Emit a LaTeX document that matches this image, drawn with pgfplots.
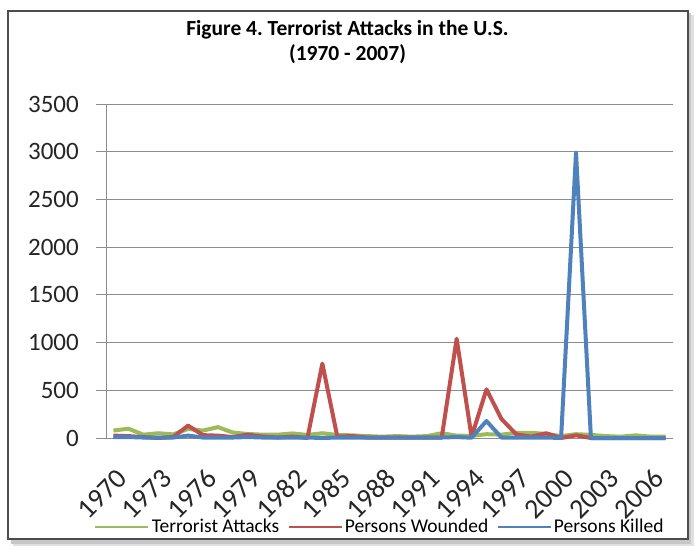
\documentclass[border=0pt]{standalone}
\usepackage{pgfplots}
\pgfplotsset{compat=1.18}
\usepackage{fontspec}
\setmainfont{Carlito}
\frenchspacing
\definecolor{cGreen}{HTML}{9BBB59}
\definecolor{cRed}{HTML}{C0504D}
\definecolor{cBlue}{HTML}{4F81BD}
\definecolor{cGrid}{HTML}{8C8C8C}
\begin{document}
\begin{tikzpicture}
\path[use as bounding box] (0pt,0pt) rectangle (695pt,550pt);
% shadow and frame
\fill[black!12] (13pt,4pt) rectangle (694pt,535pt);
\fill[black!22] (11pt,6pt) rectangle (691pt,537pt);
\draw[fill=white, draw=black!70, line width=1.3pt] (8pt,11pt) rectangle (688pt,539pt);
\node[font=\bfseries\fontsize{21.5}{26}\selectfont, anchor=base] at (347.5pt,514pt) {Figure 4. Terrorist Attacks in the U.S.};
\node[font=\bfseries\fontsize{21.5}{26}\selectfont, anchor=base] at (347.5pt,489pt) {(1970 - 2007)};
\begin{axis}[
  at={(106pt,112pt)}, anchor=south west,
  scale only axis, width=567pt, height=334pt,
  xmin=1969.5, xmax=2007.5, ymin=0, ymax=3500,
  axis lines=left, axis line style={-, draw=cGrid, line width=0.9pt},
  ytick={0,500,...,3500},
  xtick=\empty,
  minor xtick={1969.5,1970.5,...,2007.5},
  extra x ticks={1970,1973,...,2006},
  extra x tick labels={1970,1973,1976,1979,1982,1985,1988,1991,1994,1997,2000,2003,2006},
  extra x tick style={major tick length=0pt},
  tick align=outside, major tick length=10pt, minor tick length=7pt,
  tick style={draw=cGrid, line width=0.9pt},
  minor tick style={draw=cGrid, line width=0.9pt},
  ymajorgrids, grid style={draw=cGrid, line width=0.9pt},
  /pgf/number format/1000 sep={},
  /pgf/number format/assume math mode=true,
  tick label style={font=\fontsize{25}{30}\selectfont, text=black!85},
  x tick label style={font=\fontsize{28}{32}\selectfont, xshift=2pt, yshift=-29pt, rotate=45, anchor=north east, inner sep=0pt},
  y tick label style={anchor=east, inner sep=0pt, xshift=-17pt},
  legend columns=3,
  legend style={at={(0.483,-0.266)}, anchor=center, draw=none, fill=none,
    font=\fontsize{19.5}{23}\selectfont, inner sep=0pt,
    /tikz/every even column/.append style={column sep=6pt}},
  legend image code/.code={\draw[#1, line width=2.6pt] (0pt,0pt) -- (53pt,0pt);},
  clip=false,
]
\addplot[cGreen, line width=4pt, line join=round] coordinates {
(1970,78)(1971,98)(1972,35)(1973,50)(1974,38)(1975,95)(1976,78)(1977,114)(1978,57)(1979,42)
(1980,35)(1981,35)(1982,48)(1983,32)(1984,50)(1985,32)(1986,28)(1987,20)(1988,14)(1989,20)
(1990,14)(1991,20)(1992,50)(1993,25)(1994,22)(1995,40)(1996,35)(1997,55)(1998,55)(1999,42)
(2000,20)(2001,40)(2002,33)(2003,20)(2004,14)(2005,28)(2006,14)(2007,14)};
\addlegendentry{Terrorist Attacks}
\addplot[cRed, line width=4pt, line join=round] coordinates {
(1970,25)(1971,20)(1972,10)(1973,0)(1974,10)(1975,130)(1976,30)(1977,25)(1978,10)(1979,35)
(1980,15)(1981,5)(1982,15)(1983,0)(1984,780)(1985,15)(1986,20)(1987,5)(1988,5)(1989,5)
(1990,5)(1991,5)(1992,5)(1993,1040)(1994,12)(1995,510)(1996,200)(1997,38)(1998,14)(1999,50)
(2000,0)(2001,28)(2002,0)(2003,0)(2004,0)(2005,0)(2006,0)(2007,0)};
\addlegendentry{Persons Wounded}
\addplot[cBlue, line width=4pt, line join=round] coordinates {
(1970,10)(1971,10)(1972,5)(1973,5)(1974,5)(1975,25)(1976,5)(1977,5)(1978,5)(1979,10)
(1980,5)(1981,5)(1982,5)(1983,5)(1984,0)(1985,5)(1986,5)(1987,5)(1988,5)(1989,5)
(1990,5)(1991,5)(1992,5)(1993,10)(1994,3)(1995,178)(1996,5)(1997,5)(1998,5)(1999,5)
(2000,0)(2001,2990)(2002,0)(2003,0)(2004,0)(2005,0)(2006,0)(2007,0)};
\addlegendentry{Persons Killed}
\end{axis}
\end{tikzpicture}
\end{document}
